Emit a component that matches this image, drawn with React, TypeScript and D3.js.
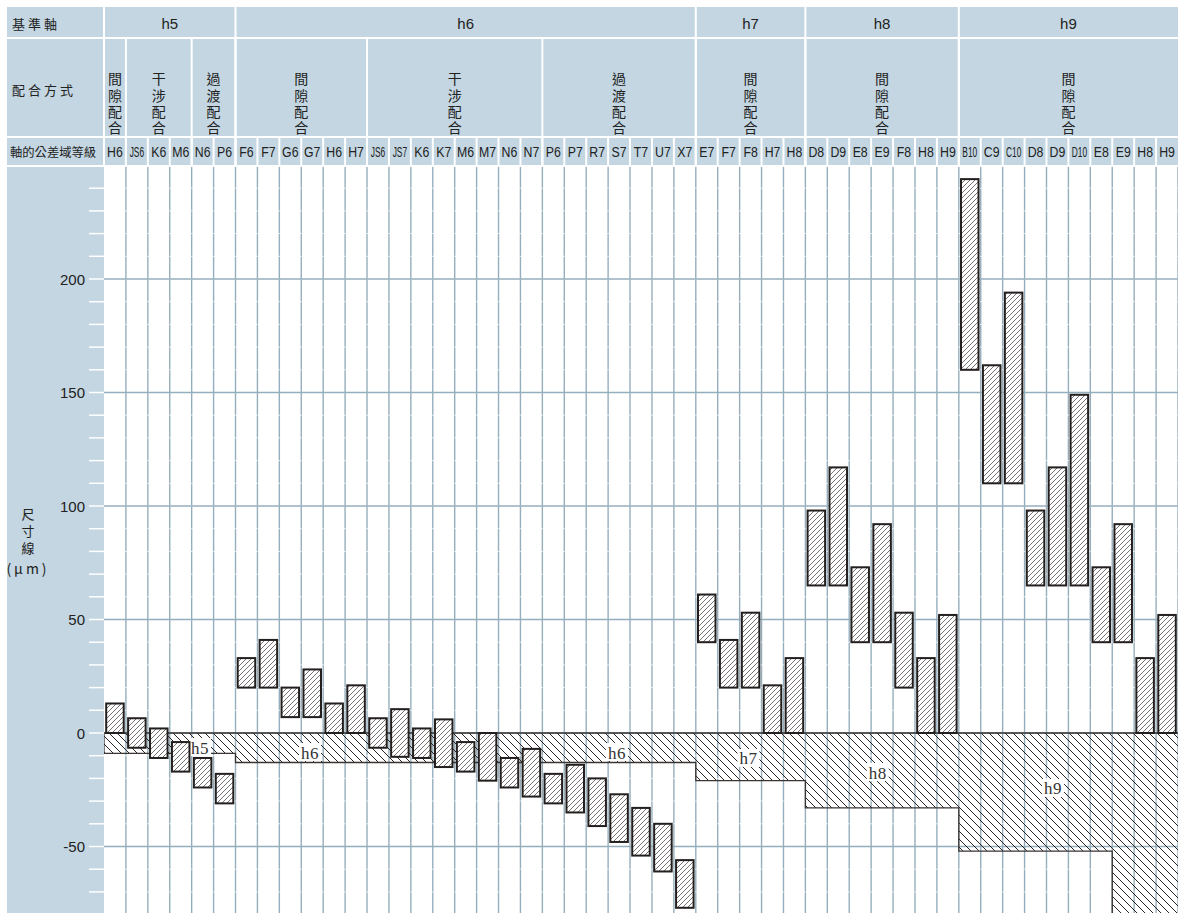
import React from 'react';
import * as d3 from 'd3';

// shaft (basis) groups
const shaftNames = ['h5', 'h6', 'h7', 'h8', 'h9'];
const shaftColumnCounts = [6, 21, 5, 7, 10];

// fit type sub-groups
const fitNames = ['間隙配合', '干涉配合', '過渡配合', '間隙配合', '干涉配合', '過渡配合', '間隙配合', '間隙配合', '間隙配合'];
const fitColumnCounts = [1, 3, 2, 6, 8, 7, 5, 7, 10];

// hole tolerance zones (µm)
const holeLabels = [
  'H6', 'JS6', 'K6', 'M6', 'N6', 'P6',
  'F6', 'F7', 'G6', 'G7', 'H6', 'H7', 'JS6', 'JS7', 'K6', 'K7', 'M6', 'M7', 'N6', 'N7', 'P6', 'P7', 'R7', 'S7', 'T7', 'U7', 'X7',
  'E7', 'F7', 'F8', 'H7', 'H8',
  'D8', 'D9', 'E8', 'E9', 'F8', 'H8', 'H9',
  'B10', 'C9', 'C10', 'D8', 'D9', 'D10', 'E8', 'E9', 'H8', 'H9',
];
const holeUpper = [
  13, 6.5, 2, -4, -11, -18,
  33, 41, 20, 28, 13, 21, 6.5, 10.5, 2, 6, -4, 0, -11, -7, -18, -14, -20, -27, -33, -40, -56,
  61, 41, 53, 21, 33,
  98, 117, 73, 92, 53, 33, 52,
  244, 162, 194, 98, 117, 149, 73, 92, 33, 52,
];
const holeLower = [
  0, -6.5, -11, -17, -24, -31,
  20, 20, 7, 7, 0, 0, -6.5, -10.5, -11, -15, -17, -21, -24, -28, -31, -35, -41, -48, -54, -61, -77,
  40, 20, 20, 0, 0,
  65, 65, 40, 40, 20, 0, 0,
  160, 110, 110, 65, 65, 65, 40, 40, 0, 0,
];

// shaft tolerance band (upper deviation 0)
const bandColumnCounts = [6, 21, 5, 7, 7, 3];
const bandLower = [-9, -13, -21, -33, -52, -120];

const bandLabelNames = ['h5', 'h6', 'h6', 'h7', 'h8', 'h9'];

const majorTicks = [-50, 0, 50, 100, 150, 200];

// label anchors (column position, value) - layout only
const bandLabelAnchors: [number, number][] = [
  [4.38, -6.2], [9.4, -8.4], [23.4, -8.4], [29.4, -11], [35.3, -17.2], [43.3, -24.2],
];

const CJK = '"Noto Sans CJK TC", "Noto Sans CJK SC", sans-serif';
const SANS = '"Liberation Sans", Arial, sans-serif';
const SERIF = '"Liberation Serif", "DejaVu Serif", serif';

const HEAD = '#c3d6e1';
const GRID = '#95aebd';
const INK = '#231f1e';

export default function App() {
  const W = 1178;
  const H = 913;
  const left = 104;
  const right = 1178;
  const top = 167;
  const bottom = 913;
  const nCols = holeLabels.length;

  const x = d3.scaleLinear().domain([0, nCols]).range([left, right]);
  const y = d3.scaleLinear().domain([-80, 250]).range([914.6, 165.5]);
  const colW = x(1) - x(0);

  const spans = (counts: number[]) => {
    const c = Array.from(d3.cumsum(counts));
    return counts.map((n, i) => [c[i] - n, c[i]] as [number, number]);
  };
  const shaftSpans = spans(shaftColumnCounts);
  const fitSpans = spans(fitColumnCounts);
  const bandSpans = spans(bandColumnCounts);

  const minorTicks = d3.range(-70, 250, 10);

  // outline of the shaft band
  const outlinePts: [number, number][] = [[left, y(0)]];
  bandSpans.forEach(([s, e], i) => {
    outlinePts.push([x(s), y(bandLower[i])]);
    outlinePts.push([x(e), y(bandLower[i])]);
  });
  const outline = d3.line()(outlinePts) || '';

  return (
    <div style={{ position: 'absolute', left: 0, top: 0 }}>
      <svg width={W} height={H} style={{ display: 'block', background: '#fff' }}>
        <defs>
          <pattern id="bandHatch" patternUnits="userSpaceOnUse" width={8} height={8}>
            <path d="M0,0 L8,8 M-1,7 L1,9 M7,-1 L9,1" stroke="#2a2524" strokeWidth={1} />
          </pattern>
          <pattern id="barHatch" patternUnits="userSpaceOnUse" width={5} height={5}>
            <rect width={5} height={5} fill="#fff" />
            <path d="M0,5 L5,0 M-1,1 L1,-1 M4,6 L6,4" stroke="#4a4444" strokeWidth={0.75} />
          </pattern>
          <clipPath id="plotClip">
            <rect x={left} y={top} width={right - left} height={bottom - top} />
          </clipPath>
        </defs>

        {/* header background */}
        <rect x={7} y={7} width={W - 7} height={159} fill={HEAD} />
        {/* left panel */}
        <rect x={7} y={top} width={left - 7} height={bottom - top} fill={HEAD} />

        {/* header separators */}
        <g stroke="#fff" strokeWidth={2}>
          <line x1={7} x2={W} y1={38} y2={38} />
          <line x1={7} x2={W} y1={137} y2={137} />
          <line x1={7} x2={W} y1={166} y2={166} />
          <line x1={left} x2={left} y1={7} y2={166} />
          {shaftSpans.map(([s], i) => (
            <line key={'gs' + i} x1={x(s)} x2={x(s)} y1={7} y2={166} />
          ))}
          {fitSpans.map(([s], i) => (
            <line key={'fs' + i} x1={x(s)} x2={x(s)} y1={38} y2={166} />
          ))}
          {holeLabels.map((_, i) => (
            <line key={'cs' + i} x1={x(i)} x2={x(i)} y1={137} y2={166} />
          ))}
        </g>

        {/* header texts */}
        <g fontFamily={CJK} fill="#222">
          <text x={12} y={23} fontSize={13} letterSpacing={3} dominantBaseline="central">基準軸</text>
          <text x={12} y={89} fontSize={13} letterSpacing={3} dominantBaseline="central">配合方式</text>
          <text x={10} y={152} fontSize={12.3} dominantBaseline="central">軸的公差域等級</text>
          {fitSpans.map(([s, e], i) => (
            <text
              key={'fit' + i}
              x={(x(s) + x(e)) / 2}
              y={72}
              fontSize={14}
              letterSpacing={2.3}
              style={{ writingMode: 'vertical-rl' }}
            >
              {fitNames[i]}
            </text>
          ))}
        </g>
        <g fontFamily={SANS} fill="#222">
          {shaftSpans.map(([s, e], i) => (
            <text key={'sh' + i} x={(x(s) + x(e)) / 2} y={23} fontSize={15} textAnchor="middle" dominantBaseline="central">
              {shaftNames[i]}
            </text>
          ))}
          {holeLabels.map((lab, i) => (
            <text
              key={'hl' + i}
              transform={`translate(${x(i) + colW / 2},152) scale(${lab.length > 2 ? 0.6 : 0.88},1)`}
              fontSize={14}
              textAnchor="middle"
              dominantBaseline="central"
            >
              {lab}
            </text>
          ))}
        </g>

        {/* y axis */}
        <g>
          {minorTicks.map((t) => (
            <line key={'mt' + t} x1={89} x2={left} y1={y(t)} y2={y(t)} stroke="#fff" strokeWidth={1.5} />
          ))}
          {majorTicks.map((t) => (
            <text key={'tl' + t} x={85} y={y(t)} fontFamily={SANS} fontSize={15} fill="#222" textAnchor="end" dominantBaseline="central">
              {t}
            </text>
          ))}
          <g fontFamily={CJK} fontSize={13} fill="#222">
            <text x={28} y={508} letterSpacing={4} style={{ writingMode: 'vertical-rl' }}>尺寸線</text>
            <text x={28} y={568} fontSize={14} letterSpacing={3} textAnchor="middle" dominantBaseline="central">(μm)</text>
          </g>
        </g>

        {/* plot grid */}
        <g>
          {holeLabels.map((_, i) => (
            <line key={'vg' + i} x1={x(i + 1)} x2={x(i + 1)} y1={top} y2={bottom} stroke={GRID} strokeWidth={1.4} />
          ))}
          {minorTicks.map((t) => (
            <line key={'wg' + t} x1={left} x2={right} y1={y(t)} y2={y(t)} stroke="#fff" strokeWidth={1} opacity={0.7} />
          ))}
          {majorTicks.map((t) => (
            <line key={'hg' + t} x1={left} x2={right} y1={y(t)} y2={y(t)} stroke={GRID} strokeWidth={1.4} />
          ))}
        </g>

        {/* shaft band */}
        <g clipPath="url(#plotClip)">
          {bandSpans.map(([s, e], i) => (
            <rect key={'bd' + i} x={x(s)} y={y(0)} width={x(e) - x(s)} height={y(bandLower[i]) - y(0)} fill="url(#bandHatch)" />
          ))}
          <path d={outline} fill="none" stroke="#3a3433" strokeWidth={1.3} />
          <line x1={left} x2={right} y1={y(0)} y2={y(0)} stroke="#3a3433" strokeWidth={1.3} />
        </g>
        <g fontFamily={SERIF} fontSize={17} fill="#333">
          {bandLabelNames.map((nm, i) => {
            const cx = x(bandLabelAnchors[i][0]);
            const cy = y(bandLabelAnchors[i][1]);
            return (
              <g key={'bl' + i}>
                <rect x={cx - 11} y={cy - 9} width={22} height={18} fill="#fff" />
                <text x={cx} y={cy + 1} textAnchor="middle" dominantBaseline="central" letterSpacing={0.5}>{nm}</text>
              </g>
            );
          })}
        </g>

        {/* hole zones */}
        <g>
          {holeLabels.map((_, i) => (
            <rect
              key={'hz' + i}
              x={x(i) + 2.2}
              y={y(holeUpper[i])}
              width={colW - 4.4}
              height={y(holeLower[i]) - y(holeUpper[i])}
              fill="url(#barHatch)"
              stroke={INK}
              strokeWidth={2}
            />
          ))}
        </g>
      </svg>
    </div>
  );
}
